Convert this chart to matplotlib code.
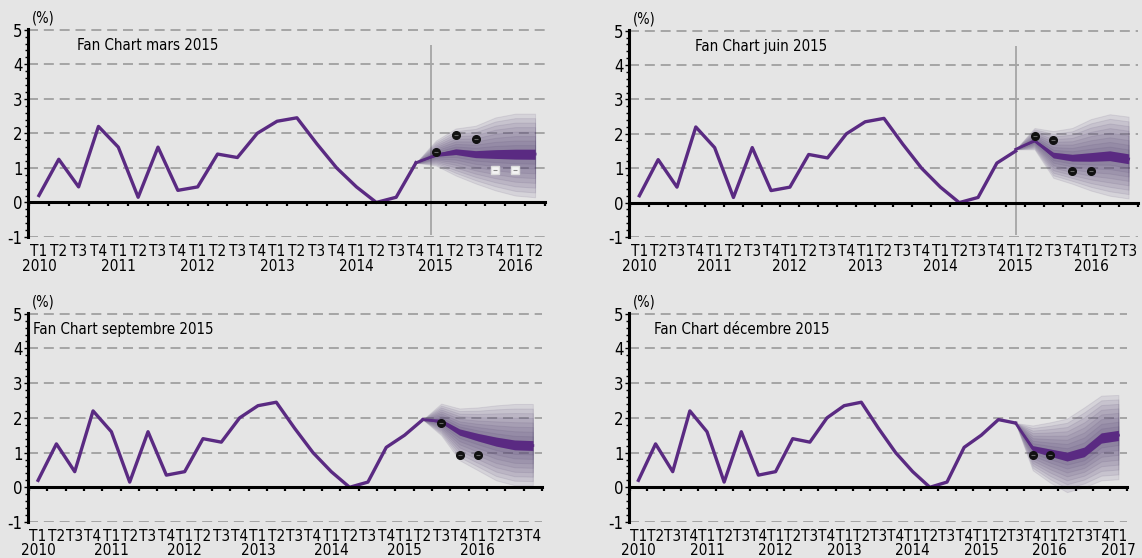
import matplotlib.pyplot as plt
import numpy as np

plt.rcParams['font.family'] = ['DejaVu Sans']
plt.rcParams['font.stretch'] = 'condensed'

# realised growth (%), quarterly from T1 2010
hist = [0.2, 1.25, 0.45, 2.2, 1.6, 0.15, 1.6, 0.35, 0.45, 1.4, 1.3, 2.0,
        2.35, 2.45, 1.7, 1.0, 0.45, 0.0, 0.15, 1.15, 1.5, 1.95, 1.85]

titles = ['Fan Chart mars 2015', 'Fan Chart juin 2015',
          'Fan Chart septembre 2015', 'Fan Chart décembre 2015']
n_quarters = [26, 27, 28, 29]
fan_start = [19, 20, 21, 22]

# central path and outer bounds of each fan (from fan_start onward)
fan_mid = [[1.15, 1.37, 1.47, 1.40, 1.40, 1.40, 1.40],
           [1.55, 1.80, 1.38, 1.30, 1.32, 1.36, 1.27],
           [1.95, 1.90, 1.60, 1.45, 1.32, 1.22, 1.20],
           [1.85, 1.12, 1.00, 0.88, 1.00, 1.42, 1.50]]
fan_hi = [[1.15, 1.79, 2.14, 2.22, 2.46, 2.57, 2.57],
          [1.55, 2.17, 2.08, 2.17, 2.43, 2.57, 2.50],
          [1.95, 2.41, 2.27, 2.30, 2.36, 2.40, 2.40],
          [1.85, 1.78, 1.87, 1.98, 2.30, 2.64, 2.66]]
fan_lo = [[1.15, 1.07, 0.78, 0.55, 0.35, 0.20, 0.15],
          [1.55, 1.55, 0.72, 0.55, 0.35, 0.20, 0.12],
          [1.95, 1.50, 0.78, 0.49, 0.20, 0.06, 0.05],
          [1.85, 0.49, 0.14, -0.14, 0.00, 0.20, 0.23]]

# previous-forecast markers (quarter index, value)
black_q = [[20, 21, 22], [21, 22, 23, 24], [22, 23, 24], [23, 24]]
black_v = [[1.47, 1.94, 1.83], [1.94, 1.83, 0.93, 0.93], [1.84, 0.92, 0.92], [0.92, 0.92]]
white_q = [[23, 24], [], [], []]
white_v = [[0.93, 0.93], [], [], []]

vline_q = [19.75, 20, None, None]

quarters = ['T1', 'T2', 'T3', 'T4']
years = list(range(2010, 2018))

bg = '#e5e5e5'
purple = '#5a2a82'
W, H = 1142, 558
# axes boxes in pixels: left, top, right, bottom
boxes = [(28, 29, 545, 237), (629, 30, 1138, 237),
         (28, 313, 542, 522), (629, 313, 1127, 522)]
title_x = [0.095, 0.13, 0.01, 0.05]

fig = plt.figure(figsize=(W / 100, H / 100), dpi=100, facecolor=bg)

for i in range(4):
    x0, y0, x1, y1 = boxes[i]
    ax = fig.add_axes([x0 / W, 1 - y1 / H, (x1 - x0) / W, (y1 - y0) / H])
    ax.set_facecolor(bg)
    n = n_quarters[i]
    ax.set_xlim(-0.55, n - 0.5)
    ax.set_ylim(-1, 5.02)

    for v in [-1, 1, 2, 3, 4, 5]:
        ax.axhline(v, color='#9a9a9a', lw=1.2, dashes=(6, 3.5), zorder=0)

    if vline_q[i] is not None:
        ax.vlines(vline_q[i], -0.95, 4.55, color='#a5a5a5', lw=1.3, zorder=1)

    # fan
    s = fan_start[i]
    mid = np.array(fan_mid[i])
    hi = np.array(fan_hi[i])
    lo = np.array(fan_lo[i])
    xs = np.arange(s, s + len(mid))
    for k in range(9, 0, -1):
        f = k / 9
        ax.fill_between(xs, mid - f * (mid - lo), mid + f * (hi - mid),
                        facecolor='#5b4a78', alpha=0.11, edgecolor='#4a3a66',
                        lw=0.7, zorder=2)
    ax.fill_between(xs, mid - 0.12 * (mid - lo), mid + 0.12 * (hi - mid),
                    color=purple, lw=0, zorder=3)
    ax.plot(xs, mid, color=purple, lw=2, zorder=3)

    # history
    ax.plot(range(s + 1), hist[:s + 1], color=purple, lw=2.4, zorder=4)

    # markers
    if black_q[i]:
        ax.plot(black_q[i], black_v[i], 'o', color='#111111', ms=5.5, zorder=5)
        ax.plot(black_q[i], black_v[i], '_', color='#666666', ms=3.5, mew=0.8, zorder=6)
    if white_q[i]:
        ax.plot(white_q[i], white_v[i], 's', mfc='#f4f4f4', mec='#dddddd', ms=5.5, zorder=5)
        ax.plot(white_q[i], white_v[i], '_', color='#888888', ms=3.5, mew=0.8, zorder=6)

    # axes styling
    for side in ['top', 'right']:
        ax.spines[side].set_visible(False)
    ax.spines['left'].set_linewidth(2.2)
    ax.spines['bottom'].set_linewidth(2.2)
    ax.spines['bottom'].set_position(('data', 0))
    ax.spines['bottom'].set_zorder(7)

    labels = []
    for q in range(n):
        lab = quarters[q % 4]
        if q % 4 == 0:
            lab += '\n' + str(years[q // 4])
        labels.append(lab)
    ax.set_xticks(range(n))
    ax.set_xticklabels(labels, fontsize=11, linespacing=0.95)
    ax.set_xticks(np.arange(n + 1) - 0.5, minor=True)
    ax.tick_params(axis='x', which='major', length=0, pad=30)
    ax.tick_params(axis='x', which='minor', length=3, width=1.6, direction='out')

    ax.set_yticks(range(-1, 6))
    ax.set_yticklabels([str(v) for v in range(-1, 6)], fontsize=12)
    ax.set_yticks(np.arange(-1, 5.01, 0.2), minor=True)
    ax.tick_params(axis='y', which='major', length=3, width=1, pad=1)
    ax.tick_params(axis='y', which='minor', length=2, width=1)

    ax.text(0.008, 1.015, '(%)', transform=ax.transAxes, fontsize=10.5,
            ha='left', va='bottom')
    ax.text(title_x[i], 0.92, titles[i], transform=ax.transAxes, fontsize=10.8,
            ha='left', va='center')

plt.savefig('out.png', dpi=100, facecolor=bg)
